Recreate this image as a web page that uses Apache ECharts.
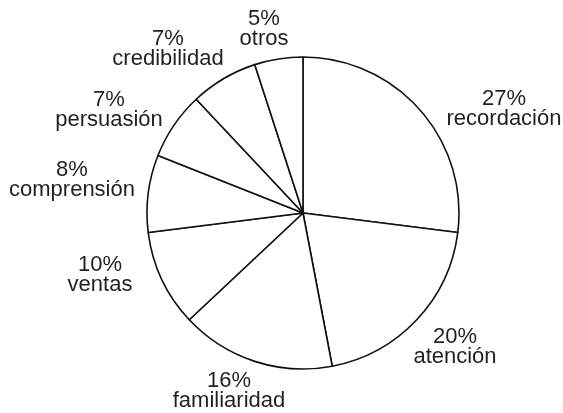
<!DOCTYPE html>
<html>
<head>
<meta charset="utf-8">
<script src="https://cdn.jsdelivr.net/npm/echarts@6/dist/echarts.min.js"></script>
<style>
html,body{margin:0;padding:0;background:#fff;}
#chart{width:563px;height:413px;}
</style>
</head>
<body>
<div id="chart"></div>
<script>
const categories = ['recordación', 'atención', 'familiaridad', 'ventas', 'comprensión', 'persuasión', 'credibilidad', 'otros'];
const percentages = [27, 20, 16, 10, 8, 7, 7, 5];

// label anchor points (layout only)
const labelAnchors = [
  [504, 109], [455, 347], [229, 391], [100, 275],
  [72, 180], [109, 110], [168, 49], [264, 29]
];

const chart = echarts.init(document.getElementById('chart'), null, {renderer: 'canvas'});
chart.setOption({
  backgroundColor: '#ffffff',
  animation: false,
  series: [{
    type: 'pie',
    center: [303, 213],
    radius: 156,
    startAngle: 90,
    clockwise: true,
    avoidLabelOverlap: false,
    silent: true,
    data: categories.map((c, i) => ({ name: c, value: percentages[i] })),
    itemStyle: { color: '#ffffff', borderColor: '#111111', borderWidth: 1.6 },
    label: {
      show: true,
      position: 'outside',
      formatter: '{c}%\n{b}',
      fontFamily: '"Liberation Sans", Arial, sans-serif',
      fontSize: 22,
      lineHeight: 20,
      color: '#231f20',
      align: 'center'
    },
    labelLine: { show: false },
    labelLayout: function (params) {
      const p = labelAnchors[params.dataIndex];
      return { x: p[0], y: p[1], align: 'center', verticalAlign: 'middle' };
    }
  }]
});
</script>
</body>
</html>
